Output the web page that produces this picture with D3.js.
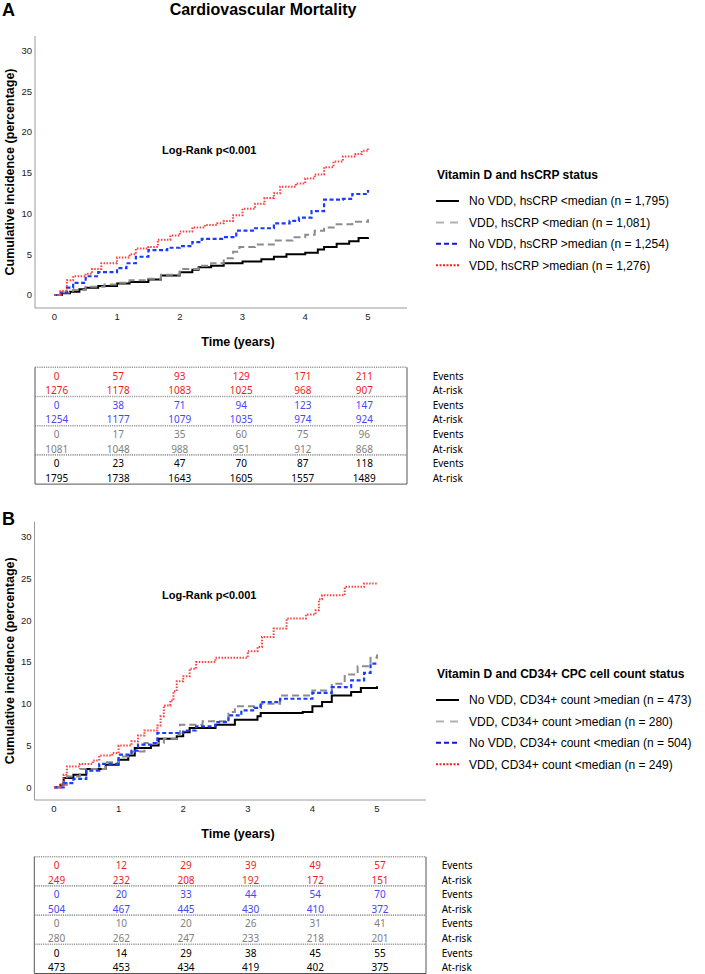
<!DOCTYPE html>
<meta charset="utf-8">
<style>
    body { margin: 0; background: #fff; }
    svg text { font-family: "Liberation Sans", Arial, sans-serif; }
    .tbl text { font-family: "Noto Sans", sans-serif; font-size: 10px; }
</style>
<body>
<svg id="chart" width="705" height="974"></svg>
</body>
<script src="https://d3js.org/d3.v7.min.js"></script>
<script>
    // ---- data ----
    var years = [0, 1, 2, 3, 4, 5];
    var yTicks = [0, 5, 10, 15, 20, 25, 30];

    var legendA = ["No VDD, hsCRP <median (n = 1,795)", "VDD, hsCRP <median (n = 1,081)",
        "No VDD, hsCRP >median (n = 1,254)", "VDD, hsCRP >median (n = 1,276)"];
    var legendB = ["No VDD, CD34+ count >median (n = 473)", "VDD, CD34+ count >median (n = 280)",
        "No VDD, CD34+ count <median (n = 504)", "VDD, CD34+ count <median (n = 249)"];

    // panel A curves [time, cumulative %]
    var aNoVddLow = [[0,0],[0.12,0.2],[0.25,0.4],[0.4,0.7],[0.5,0.9],[0.7,1.1],[1,1.4],[1.2,1.6],[1.5,1.9],[1.7,2.4],[2,2.8],[2.2,3.1],[2.3,3.4],[2.5,3.6],[2.7,3.9],[3,4.1],[3.3,4.4],[3.5,4.7],[3.7,5.0],[4,5.2],[4.2,5.6],[4.3,5.9],[4.5,6.3],[4.7,6.6],[4.85,7.0],[5,7.1]];
    var aVddLow = [[0,0],[0.15,0.3],[0.3,0.6],[0.5,1.0],[0.8,1.3],[1,1.5],[1.2,1.8],[1.5,2.0],[1.7,2.5],[2,3.2],[2.3,3.6],[2.5,3.9],[2.7,4.5],[2.85,5.3],[2.95,5.9],[3.2,6.2],[3.5,6.7],[3.8,7.1],[4,7.4],[4.15,7.9],[4.3,8.3],[4.5,8.7],[4.75,9.0],[5,9.3]];
    var aNoVddHigh = [[0,0],[0.1,0.3],[0.2,0.9],[0.3,1.5],[0.5,2.3],[0.7,2.8],[1,3.3],[1.15,3.9],[1.3,4.7],[1.5,5.5],[1.8,5.8],[2,6.0],[2.2,6.5],[2.35,6.9],[2.7,7.1],[2.9,7.9],[3.2,8.2],[3.5,8.8],[3.75,9.1],[3.9,9.5],[4.1,10.3],[4.3,11.7],[4.6,11.8],[4.75,12.4],[5,12.9]];
    var aVddHigh = [[0,0],[0.1,0.5],[0.2,1.8],[0.3,2.3],[0.5,2.6],[0.6,3.2],[0.75,3.9],[1,4.6],[1.2,5.0],[1.3,5.7],[1.5,5.9],[1.65,6.8],[1.85,7.3],[2,7.8],[2.2,8.3],[2.4,8.6],[2.6,8.8],[2.7,9.1],[2.85,9.8],[3,10.6],[3.2,11.2],[3.35,11.9],[3.5,12.5],[3.6,13.3],[3.85,13.7],[4,14.3],[4.15,14.8],[4.3,15.7],[4.45,16.4],[4.6,17.0],[4.8,17.3],[4.9,17.7],[5,18.0]];

    // panel B curves
    var bNoVddHigh = [[0,0],[0.1,0.3],[0.15,1.1],[0.3,1.5],[0.5,2.2],[0.8,2.7],[1,3.3],[1.15,3.8],[1.25,4.7],[1.5,5.0],[1.62,5.8],[1.9,6.1],[2,6.6],[2.1,7.1],[2.5,7.5],[2.8,8.1],[3.15,8.5],[3.2,8.9],[3.85,9.0],[4,9.7],[4.15,10.2],[4.3,11.0],[4.6,11.4],[4.75,11.9],[5,12.1]];
    var bVddHigh = [[0,0],[0.1,0.3],[0.2,1.3],[0.4,2.2],[0.8,3.0],[1,3.7],[1.2,4.3],[1.4,5.3],[1.7,5.8],[1.9,6.3],[1.95,7.5],[2.3,7.9],[2.7,9.0],[2.8,9.7],[3.2,10.0],[3.5,11.0],[4,11.6],[4.3,12.4],[4.5,13.5],[4.7,14.5],[4.9,15.5],[5,15.9]];
    var bNoVddLow = [[0,0],[0.15,0.5],[0.3,1.0],[0.5,2.0],[0.7,2.8],[1,3.9],[1.2,4.4],[1.3,5.1],[1.5,5.3],[1.6,6.5],[2,6.8],[2.2,7.3],[2.5,7.8],[2.7,8.6],[2.9,9.2],[3.1,9.5],[3.2,10.2],[3.5,10.6],[4,11.3],[4.3,12.0],[4.6,12.8],[4.8,13.7],[4.9,14.8],[5,15.0]];
    var bVddLow = [[0,0],[0.1,0.3],[0.15,1.5],[0.2,2.5],[0.4,2.8],[0.6,3.2],[0.7,3.8],[0.9,4.1],[1,5.0],[1.2,5.5],[1.3,6.2],[1.4,6.8],[1.6,7.4],[1.65,8.5],[1.7,9.8],[1.8,10.4],[1.85,11.5],[1.9,12.7],[2,13.3],[2.1,14.2],[2.2,15.0],[2.5,15.5],[3,16.3],[3.15,16.8],[3.22,18.0],[3.4,19.0],[3.6,20.2],[3.9,20.7],[4.05,21.2],[4.1,22.5],[4.15,23.0],[4.5,24.0],[4.8,24.4],[5,24.5]];

    // numbers at risk tables (top row group first)
    var aVddHighEvents = [0, 57, 93, 129, 171, 211];
    var aVddHighRisk = [1276, 1178, 1083, 1025, 968, 907];
    var aNoVddHighEvents = [0, 38, 71, 94, 123, 147];
    var aNoVddHighRisk = [1254, 1177, 1079, 1035, 974, 924];
    var aVddLowEvents = [0, 17, 35, 60, 75, 96];
    var aVddLowRisk = [1081, 1048, 988, 951, 912, 868];
    var aNoVddLowEvents = [0, 23, 47, 70, 87, 118];
    var aNoVddLowRisk = [1795, 1738, 1643, 1605, 1557, 1489];

    var bVddLowEvents = [0, 12, 29, 39, 49, 57];
    var bVddLowRisk = [249, 232, 208, 192, 172, 151];
    var bNoVddLowEvents = [0, 20, 33, 44, 54, 70];
    var bNoVddLowRisk = [504, 467, 445, 430, 410, 372];
    var bVddHighEvents = [0, 10, 20, 26, 31, 41];
    var bVddHighRisk = [280, 262, 247, 233, 218, 201];
    var bNoVddHighEvents = [0, 14, 29, 38, 45, 55];
    var bNoVddHighRisk = [473, 453, 434, 419, 402, 375];

    // ---- styles ----
    var curveStyle = [
        { color: "#000", dash: null, width: 2 },
        { color: "#8c8c8c", dash: "7,4", width: 2 },
        { color: "#1a3cff", dash: "4,2.5", width: 2.2 },
        { color: "#ff4040", dash: "1.5,1.5", width: 2 }
    ];
    var legendStyle = [
        { color: "#000", dash: null },
        { color: "#b0b0b0", dash: "8,6" },
        { color: "#1515e0", dash: "5,3" },
        { color: "#ff1a1a", dash: "2,1.5" }
    ];
    var tableColors = ["#ee1c24", "#4646f5", "#808080", "#000"];

    var svg = d3.select("#chart");

    svg.append("text").attr("x", 2).attr("y", 16)
        .style("font-size", "18px").style("font-weight", "bold").text("A");
    svg.append("text").attr("x", 263).attr("y", 15).attr("text-anchor", "middle")
        .style("font-size", "16px").style("font-weight", "bold").text("Cardiovascular Mortality");
    svg.append("text").attr("x", 2).attr("y", 525)
        .style("font-size", "18px").style("font-weight", "bold").text("B");

    drawPanel({
        x0: 54.3, x5: 368, y0: 295, y30: 50.7,
        axisLeft: 35, axisTop: 36, axisBottom: 308, axisRight: 407,
        series: [aNoVddLow, aVddLow, aNoVddHigh, aVddHigh],
        legendTitle: "Vitamin D and hsCRP status", legend: legendA, legendY: 175,
        logRankY: 154,
        table: { left: 35, right: 407, top: 367.3, colL: 56.7, colR: 364.3, labelX: 432.7,
            rows: [[aVddHighEvents, aVddHighRisk], [aNoVddHighEvents, aNoVddHighRisk],
                [aVddLowEvents, aVddLowRisk], [aNoVddLowEvents, aNoVddLowRisk]] }
    });

    drawPanel({
        x0: 54, x5: 377, y0: 787.3, y30: 536.7,
        axisLeft: 34.5, axisTop: 521.7, axisBottom: 800, axisRight: 426,
        series: [bNoVddHigh, bVddHigh, bNoVddLow, bVddLow],
        legendTitle: "Vitamin D and CD34+ CPC cell count status", legend: legendB, legendY: 674,
        logRankY: 599,
        table: { left: 34.3, right: 426, top: 856.7, colL: 56.7, colR: 380, labelX: 441.7,
            rows: [[bVddLowEvents, bVddLowRisk], [bNoVddLowEvents, bNoVddLowRisk],
                [bVddHighEvents, bVddHighRisk], [bNoVddHighEvents, bNoVddHighRisk]] }
    });

    function drawPanel(p) {
        var x = d3.scaleLinear().domain([0, 5]).range([p.x0, p.x5]);
        var y = d3.scaleLinear().domain([0, 30]).range([p.y0, p.y30]);
        var g = svg.append("g");

        // axes (left + bottom lines only, no tick marks)
        g.append("line").attr("x1", p.axisLeft).attr("x2", p.axisLeft)
            .attr("y1", p.axisTop).attr("y2", p.axisBottom)
            .attr("stroke", "#9a9a9a").attr("stroke-width", 1);
        g.append("line").attr("x1", p.axisLeft).attr("x2", p.axisRight)
            .attr("y1", p.axisBottom).attr("y2", p.axisBottom)
            .attr("stroke", "#9a9a9a").attr("stroke-width", 1);

        g.selectAll(".yt").data(yTicks).enter().append("text")
            .attr("x", p.axisLeft - 3).attr("y", function(d) { return y(d) + 3.3; })
            .attr("text-anchor", "end").style("font-size", "9.5px").attr("fill", "#222")
            .text(function(d) { return d; });
        g.selectAll(".xt").data(years).enter().append("text")
            .attr("x", function(d) { return x(d); }).attr("y", p.axisBottom + 12)
            .attr("text-anchor", "middle").style("font-size", "9.5px").attr("fill", "#222")
            .text(function(d) { return d; });

        g.append("text").attr("x", 238).attr("y", p.axisBottom + 38)
            .attr("text-anchor", "middle").style("font-size", "12.5px").style("font-weight", "bold")
            .text("Time (years)");
        var midY = (p.axisTop + p.axisBottom) / 2;
        g.append("text").attr("transform", "translate(14," + midY + ") rotate(-90)")
            .attr("text-anchor", "middle").style("font-size", "12.5px").style("font-weight", "bold")
            .text("Cumulative incidence (percentage)");

        g.append("text").attr("x", 162).attr("y", p.logRankY)
            .style("font-size", "11px").style("font-weight", "bold").text("Log-Rank p<0.001");

        var line = d3.line()
            .x(function(d) { return x(d[0]); })
            .y(function(d) { return y(d[1]); })
            .curve(d3.curveStepAfter);

        g.selectAll(".curve").data(p.series).enter().append("path")
            .attr("d", line)
            .attr("fill", "none")
            .attr("stroke", function(d, i) { return curveStyle[i].color; })
            .attr("stroke-width", function(d, i) { return curveStyle[i].width; })
            .attr("stroke-dasharray", function(d, i) { return curveStyle[i].dash; });

        // legend
        g.append("text").attr("x", 437).attr("y", p.legendY + 4)
            .style("font-size", "12px").style("font-weight", "bold").text(p.legendTitle);
        var lg = g.selectAll(".lg").data(p.legend).enter().append("g")
            .attr("transform", function(d, i) { return "translate(0," + (p.legendY + 26 + i * 21.4) + ")"; });
        lg.append("line").attr("x1", 436).attr("x2", 459).attr("y1", 0).attr("y2", 0)
            .attr("stroke", function(d, i) { return legendStyle[i].color; })
            .attr("stroke-width", 2)
            .attr("stroke-dasharray", function(d, i) { return legendStyle[i].dash; });
        lg.append("text").attr("x", 469).attr("y", 4.3)
            .style("font-size", "12px").text(function(d) { return d; });

        drawTable(p.table);
    }

    function drawTable(t) {
        var col = d3.scaleLinear().domain([0, 5]).range([t.colL, t.colR]);
        var rowH = 14.6, groupH = 29.2;
        var bottom = t.top + groupH * 4;
        var g = svg.append("g").attr("class", "tbl");

        t.rows.forEach(function(pair, gi) {
            var gy = t.top + gi * groupH;
            pair.forEach(function(vals, ri) {
                var ty = gy + 12.3 + ri * rowH;
                g.selectAll(null).data(vals).enter().append("text")
                    .attr("x", function(d, i) { return col(years[i]); })
                    .attr("y", ty)
                    .attr("text-anchor", "middle")
                    .attr("fill", tableColors[gi])
                    .text(function(d) { return d; });
                g.append("text").attr("x", t.labelX).attr("y", ty)
                    .attr("fill", "#000").text(ri === 0 ? "Events" : "At-risk");
            });
            // dotted separator above each group
            g.append("line").attr("x1", t.left).attr("x2", t.right)
                .attr("y1", gy).attr("y2", gy)
                .attr("stroke", "#9a9a9a").attr("stroke-width", 1.6)
                .attr("stroke-dasharray", "1.2,1");
        });
        g.append("path")
            .attr("d", "M" + t.left + "," + t.top + "V" + bottom + "H" + t.right + "V" + t.top)
            .attr("fill", "none").attr("stroke", "#555").attr("stroke-width", 1);
    }
</script>
